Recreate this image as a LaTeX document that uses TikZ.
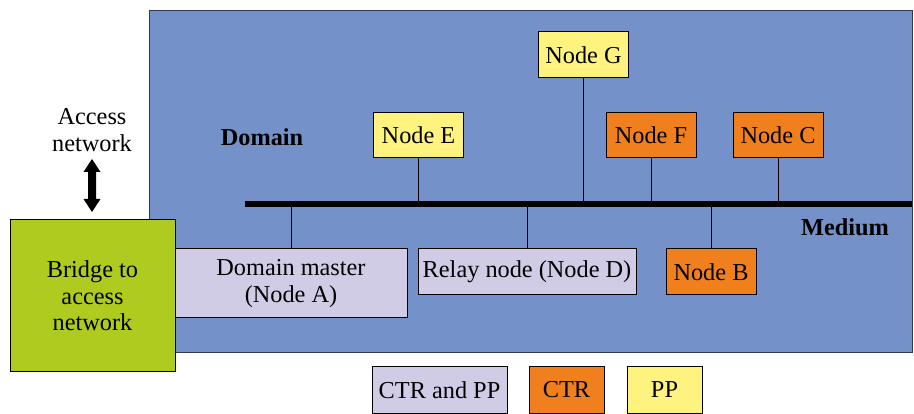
\documentclass[tikz,border=0pt]{standalone}
\usepackage{fontspec}
\setmainfont{Liberation Serif}
\usetikzlibrary{arrows.meta}
\definecolor{domblue}{RGB}{117,145,201}
\definecolor{ppyellow}{RGB}{255,243,128}
\definecolor{ctrorange}{RGB}{240,127,30}
\definecolor{bothlav}{RGB}{208,204,230}
\definecolor{bridgegreen}{RGB}{176,203,31}
\begin{document}
\begin{tikzpicture}[x=1pt,y=-1pt,
  txt/.style={font=\fontsize{24.3}{26.5}\selectfont, inner sep=0pt, align=center},
  boldtxt/.style={txt, font=\fontsize{24.3}{26.5}\selectfont\bfseries},
  box/.style={txt, draw=black, line width=1pt, minimum height=45pt},
  ppbox/.style={box, fill=ppyellow, minimum width=90pt},
  ctrbox/.style={box, fill=ctrorange, minimum width=90pt},
  bothbox/.style={box, fill=bothlav},
  link/.style={draw=black, line width=1pt}
]
\useasboundingbox (0,0) rectangle (914,414);
% domain
\node[draw=black!60!domblue, line width=0.8pt, fill=domblue, minimum width=763pt, minimum height=342pt, inner sep=0pt, anchor=north west] (dom) at (149,10) {};
\node[boldtxt] (domlbl) at (262,137) {Domain};
\node[boldtxt] (medlbl) at (845,227) {Medium};
% medium bar
\coordinate (barL) at (245,203.7);
\coordinate (barR) at (912,203.7);
\draw[line width=6pt] (barL) -- (barR);
% nodes
\node[ppbox] (nE) at (418.5,135.5) {Node E};
\node[ppbox, minimum height=46pt] (nG) at (583.5,55) {Node G};
\node[ctrbox] (nF) at (651,135.5) {Node F};
\node[ctrbox] (nC) at (778,135.5) {Node C};
\node[bothbox, minimum width=218pt, minimum height=46pt] (nD) at (527,272) {Relay node (Node D)};
\node[ctrbox, minimum height=46pt] (nB) at (711,272) {Node B};
\node[bothbox, minimum width=232pt, minimum height=69pt] (nA) at (291,283.5) {Domain master\\(Node A)};
% bridge
\node[box, fill=bridgegreen, minimum width=165pt, minimum height=152pt] (br) at (92.5,296) {Bridge to\\access\\network};
% connectors
\coordinate (nAtop) at (291,249);
\draw[link] (nE.south) -- (nE.south |- barL);
\draw[link] (nG.south) -- (nG.south |- barL);
\draw[link] (nF.south) -- (nF.south |- barL);
\draw[link] (nC.south) -- (nC.south |- barL);
\draw[link] (nD.north) -- (nD.north |- barL);
\draw[link] (nB.north) -- (nB.north |- barL);
\draw[link] (nAtop) -- (nAtop |- barL);
% access network
\node[txt] (acc) at (92,130) {Access\\network};
\coordinate (arT) at (92,159);
\coordinate (arB) at (92,212);
\fill[black] (arT) -- ++(8.5,13) -- ++(-4.5,0) -- ++(0,27) -- ++(4.5,0) -- (arB) -- ++(-8.5,-13) -- ++(4.5,0) -- ++(0,-27) -- ++(-4.5,0) -- cycle;
% legend
\node[bothbox, minimum width=135pt, minimum height=46pt] (l1) at (439.5,390) {CTR and PP};
\node[ctrbox, minimum width=75pt, minimum height=46pt] (l2) at (566.5,390) {CTR};
\node[ppbox, minimum width=75pt, minimum height=46pt] (l3) at (664.5,390) {PP};
\end{tikzpicture}
\end{document}
